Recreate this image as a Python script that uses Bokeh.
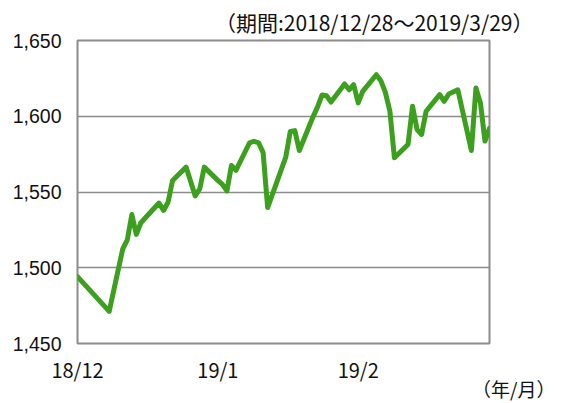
import pandas as pd
from bokeh.plotting import figure
from bokeh.models import Range1d, FixedTicker, NumeralTickFormatter, Title, ColumnDataSource
from bokeh.embed import file_html
from bokeh.resources import INLINE

# ---- data ----
dates = [
    "2018-12-28", "2019-01-04", "2019-01-07", "2019-01-08", "2019-01-09", "2019-01-10",
    "2019-01-11", "2019-01-15", "2019-01-16", "2019-01-17", "2019-01-18", "2019-01-21",
    "2019-01-22", "2019-01-23", "2019-01-24", "2019-01-25", "2019-01-28", "2019-01-29",
    "2019-01-30", "2019-01-31", "2019-02-01", "2019-02-04", "2019-02-05", "2019-02-06",
    "2019-02-07", "2019-02-08", "2019-02-12", "2019-02-13", "2019-02-14", "2019-02-15",
    "2019-02-18", "2019-02-19", "2019-02-20", "2019-02-21", "2019-02-22", "2019-02-25",
    "2019-02-26", "2019-02-27", "2019-02-28", "2019-03-01", "2019-03-04", "2019-03-05",
    "2019-03-06", "2019-03-07", "2019-03-08", "2019-03-11", "2019-03-12", "2019-03-13",
    "2019-03-14", "2019-03-15", "2019-03-18", "2019-03-19", "2019-03-20", "2019-03-22",
    "2019-03-25", "2019-03-26", "2019-03-27", "2019-03-28", "2019-03-29",
]
values = [
    1494.1, 1471.2, 1512.5, 1518.4, 1535.1, 1522.0,
    1529.7, 1542.7, 1537.8, 1543.2, 1557.6, 1566.4,
    1557.0, 1547.4, 1552.0, 1566.4, 1557.7, 1555.0,
    1550.7, 1567.5, 1564.3, 1582.5, 1583.5, 1582.5,
    1576.0, 1539.7, 1573.0, 1590.0, 1590.5, 1577.4,
    1599.5, 1606.0, 1614.0, 1613.5, 1609.4, 1621.3,
    1617.5, 1620.8, 1608.8, 1616.4, 1627.4, 1623.5,
    1615.8, 1603.3, 1572.6, 1581.4, 1606.6, 1591.2,
    1588.0, 1603.3, 1614.3, 1609.9, 1614.7, 1617.5,
    1577.4, 1618.6, 1608.8, 1583.6, 1592.0,
]
x_tick_dates = ["2018-12-28", "2019-01-28", "2019-02-28"]
x_tick_labels = ["18/12", "19/1", "19/2"]
y_ticks = [1450, 1500, 1550, 1600, 1650]
title_text = "（期間:2018/12/28～2019/3/29）"
unit_text = "（年/月）"

# ---- build ----
start = pd.Timestamp(dates[0])
day_x = [(pd.Timestamp(d) - start).days for d in dates]
tick_x = [(pd.Timestamp(d) - start).days for d in x_tick_dates]
x_end = day_x[-1]

W, H = 561, 403
p = figure(width=W, height=H, output_backend="svg", toolbar_location=None,
           x_range=Range1d(0, x_end), y_range=Range1d(y_ticks[0], y_ticks[-1]),
           min_border_left=77, min_border_right=72, min_border_top=39, min_border_bottom=60)
p.background_fill_color = "white"
p.border_fill_color = "white"
p.outline_line_color = "#8c8c8c"
p.outline_line_width = 2

src = ColumnDataSource(dict(x=day_x, y=values))
p.line("x", "y", source=src, line_color="#3ca01e", line_width=5, line_join="round", line_cap="round")

# y axis
p.yaxis.ticker = FixedTicker(ticks=y_ticks)
p.yaxis.formatter = NumeralTickFormatter(format="0,0")
p.yaxis.axis_line_color = None
p.yaxis.major_tick_line_color = None
p.yaxis.minor_tick_line_color = None
p.yaxis.major_tick_out = 0
p.yaxis.major_tick_in = 0
p.yaxis.major_label_standoff = 16
p.yaxis.major_label_text_font = "Liberation Sans"
p.yaxis.major_label_text_font_size = "19.5px"
p.yaxis.major_label_text_color = "#111111"

# x axis
p.xaxis.ticker = FixedTicker(ticks=tick_x)
p.xaxis.major_label_overrides = {t: l for t, l in zip(tick_x, x_tick_labels)}
p.xaxis.axis_line_color = None
p.xaxis.major_tick_line_color = None
p.xaxis.minor_tick_line_color = None
p.xaxis.major_tick_out = 0
p.xaxis.major_tick_in = 0
p.xaxis.major_label_standoff = 11
p.xaxis.major_label_text_font = "Noto Sans CJK JP"
p.xaxis.major_label_text_font_size = "20px"
p.xaxis.major_label_text_color = "#111111"

p.xgrid.grid_line_color = None
p.ygrid.grid_line_color = "#8c8c8c"
p.ygrid.grid_line_width = 1.5

p.add_layout(Title(text=title_text, align="right", offset=-44, standoff=8,
                   text_font="Noto Sans CJK JP", text_font_size="21px",
                   text_font_style="normal", text_color="#111111"), "above")
p.add_layout(Title(text=unit_text, align="right", offset=-66, standoff=-27,
                   text_font="Noto Sans CJK JP", text_font_size="19px",
                   text_font_style="normal", text_color="#111111"), "below")

open("out.html", "w").write(file_html(p, INLINE))
